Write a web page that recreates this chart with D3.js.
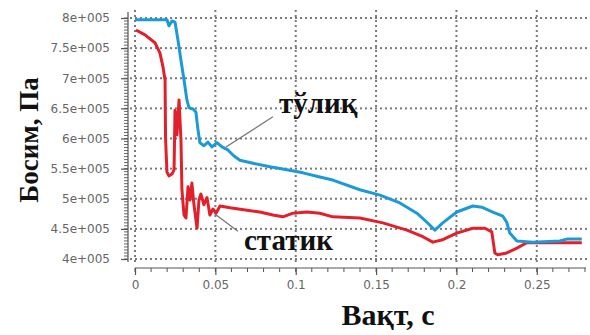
<!DOCTYPE html>
<html>
<head>
<meta charset="utf-8">
<script src="https://cdn.jsdelivr.net/npm/d3@7"></script>
<style>
  html, body { margin: 0; padding: 0; background: #fff; }
  svg { display: block; }
</style>
</head>
<body>
<svg id="chart" width="590" height="335"></svg>
<script>
// Time, s
const fullTime = [0, 0.0199, 0.0211, 0.0230, 0.0249, 0.0267, 0.0286, 0.0305, 0.0323, 0.0336, 0.0361, 0.0379, 0.0392, 0.0404, 0.0429, 0.0454, 0.0479, 0.0510, 0.0541, 0.0578, 0.0616, 0.0653, 0.0734, 0.0840, 0.0945, 0.1045, 0.1150, 0.1231, 0.1399, 0.1524, 0.1648, 0.1754, 0.1816, 0.1866, 0.1915, 0.2002, 0.2102, 0.2158, 0.2226, 0.2289, 0.2313, 0.2332, 0.2376, 0.2475, 0.2643, 0.2687, 0.2780];
// Full pressure, Pa
const fullPressure = [797000, 797000, 787000, 795000, 793000, 764000, 730000, 697000, 664000, 651000, 649000, 644000, 614000, 593000, 588000, 594000, 586000, 593000, 586000, 581000, 571000, 564000, 559000, 553000, 548000, 543000, 536000, 531000, 515000, 506000, 493000, 476000, 461000, 448000, 460000, 478000, 488000, 486000, 478000, 471000, 461000, 443000, 430000, 428000, 430000, 433000, 433000];

// Static pressure, Pa
const staticTime = [0.0006, 0.0062, 0.0124, 0.0155, 0.0174, 0.0187, 0.0190, 0.0193, 0.0199, 0.0211, 0.0230, 0.0243, 0.0249, 0.0255, 0.0261, 0.0274, 0.0286, 0.0292, 0.0305, 0.0317, 0.0330, 0.0342, 0.0354, 0.0367, 0.0386, 0.0398, 0.0410, 0.0429, 0.0448, 0.0466, 0.0485, 0.0504, 0.0529, 0.0591, 0.0697, 0.0777, 0.0858, 0.0920, 0.0983, 0.1070, 0.1150, 0.1231, 0.1399, 0.1542, 0.1692, 0.1791, 0.1853, 0.1915, 0.2002, 0.2102, 0.2177, 0.2220, 0.2239, 0.2257, 0.2313, 0.2376, 0.2438, 0.2519, 0.2780];
const staticPressure = [780000, 772000, 759000, 742000, 719000, 697000, 603000, 581000, 544000, 538000, 541000, 548000, 647000, 639000, 606000, 664000, 598000, 515000, 473000, 468000, 520000, 498000, 526000, 490000, 451000, 498000, 508000, 490000, 502000, 473000, 483000, 476000, 488000, 485000, 481000, 478000, 473000, 470000, 476000, 478000, 476000, 470000, 468000, 460000, 448000, 437000, 428000, 432000, 443000, 451000, 451000, 445000, 410000, 407000, 410000, 418000, 427000, 427000, 427000];

const yTicks = [400000, 450000, 500000, 550000, 600000, 650000, 700000, 750000, 800000];
const yTickLabels = ["4e+005", "4.5e+005", "5e+005", "5.5e+005", "6e+005", "6.5e+005", "7e+005", "7.5e+005", "8e+005"];
const xTicks = [0, 0.05, 0.1, 0.15, 0.2, 0.25];
const xTickLabels = ["0", "0.05", "0.1", "0.15", "0.2", "0.25"];

const svg = d3.select("#chart");
const x = d3.scaleLinear().domain([0, 0.28]).range([135, 585]);
const y = d3.scaleLinear().domain([400000, 800000]).range([259, 18]);

const axisColor = "#555";
const tickFont = "Verdana, 'DejaVu Sans', sans-serif";
const serif = "'Liberation Serif', 'Times New Roman', serif";

// Dotted grid, built from small square dots every 5 px
const dotStep = 5, dotSize = 2;
const gridDots = [];
yTicks.forEach(v => d3.range(130, 586, dotStep).forEach(px => gridDots.push([px, y(v) - dotSize / 2])));
xTicks.forEach(v => d3.range(10, 263, dotStep).forEach(py => gridDots.push([x(v) - dotSize / 2, py])));
svg.append("g").attr("class", "gridlines")
  .selectAll("rect").data(gridDots).join("rect")
  .attr("x", d => d[0]).attr("y", d => d[1])
  .attr("width", dotSize).attr("height", dotSize)
  .attr("fill", "#7a7a7a");

// Y axis with dense minor ticks
const yAxisG = svg.append("g").attr("transform", "translate(128,0)");
yAxisG.append("line").attr("x1", 0).attr("x2", 0).attr("y1", 12).attr("y2", 262)
  .attr("stroke", axisColor).attr("stroke-width", 1.2);
yAxisG.selectAll("line.ym").data(d3.range(400000, 800001, 5000)).join("line")
  .attr("class", "ym")
  .attr("x1", -4).attr("x2", 0)
  .attr("y1", d => y(d)).attr("y2", d => y(d))
  .attr("stroke", axisColor).attr("stroke-width", 0.9);
yAxisG.append("g").call(g => {
  const ax = d3.axisLeft(y).tickValues(yTicks).tickFormat((d, i) => yTickLabels[i]).tickSize(7).tickPadding(11);
  g.call(ax);
  g.select(".domain").remove();
  g.selectAll(".tick line").attr("stroke", axisColor).attr("stroke-width", 1.2);
  g.selectAll(".tick text").attr("fill", "#666").attr("font-family", tickFont).attr("font-size", 12);
});

// X axis with minor ticks
const xAxisG = svg.append("g").attr("transform", "translate(0,268)");
xAxisG.append("line").attr("x1", x(0)).attr("x2", 586).attr("y1", 0).attr("y2", 0)
  .attr("stroke", axisColor).attr("stroke-width", 1.2);
xAxisG.selectAll("line.xm").data(d3.range(0, 28.5, 1).map(d => d / 100)).join("line")
  .attr("class", "xm")
  .attr("x1", d => x(d)).attr("x2", d => x(d))
  .attr("y1", 0).attr("y2", 4)
  .attr("stroke", axisColor).attr("stroke-width", 1);
xAxisG.append("g").call(g => {
  const ax = d3.axisBottom(x).tickValues(xTicks).tickFormat((d, i) => xTickLabels[i]).tickSize(7).tickPadding(5);
  g.call(ax);
  g.select(".domain").remove();
  g.selectAll(".tick line").attr("stroke", axisColor).attr("stroke-width", 1.2);
  g.selectAll(".tick text").attr("fill", "#666").attr("font-family", tickFont).attr("font-size", 12);
});

// Pressure curves
const lineGen = d3.line().x(d => x(d[0])).y(d => y(d[1]));
const staticData = d3.zip(staticTime, staticPressure);
const fullData = d3.zip(fullTime, fullPressure);

svg.append("path").datum(staticData)
  .attr("d", lineGen).attr("fill", "none")
  .attr("stroke", "#e0212b").attr("stroke-width", 3).attr("stroke-linejoin", "round");
svg.append("path").datum(fullData)
  .attr("d", lineGen).attr("fill", "none")
  .attr("stroke", "#1d9ad6").attr("stroke-width", 3).attr("stroke-linejoin", "round");

// Leader lines and series labels
svg.append("line").attr("x1", x(0.0858)).attr("y1", y(636000)).attr("x2", x(0.0566)).attr("y2", y(586000))
  .attr("stroke", "#777").attr("stroke-width", 1.3);
svg.append("line").attr("x1", x(0.0491)).attr("y1", y(476000)).attr("x2", x(0.0640)).attr("y2", y(446000))
  .attr("stroke", "#777").attr("stroke-width", 1.3);

svg.append("text").attr("x", 279).attr("y", 113)
  .attr("font-family", serif).attr("font-weight", "bold").attr("font-size", 29)
  .attr("fill", "#111").text("тўлиқ");
svg.append("text").attr("x", 244).attr("y", 250)
  .attr("font-family", serif).attr("font-weight", "bold").attr("font-size", 29)
  .attr("fill", "#111").text("статик");

// Axis titles
svg.append("text").attr("x", 388).attr("y", 325).attr("text-anchor", "middle")
  .attr("font-family", serif).attr("font-weight", "bold").attr("font-size", 30)
  .attr("fill", "#111").text("Вақт, с");
svg.append("text").attr("transform", "translate(38,140) rotate(-90)").attr("text-anchor", "middle")
  .attr("font-family", serif).attr("font-weight", "bold").attr("font-size", 27)
  .attr("fill", "#111").text("Босим, Па");
</script>
</body>
</html>
